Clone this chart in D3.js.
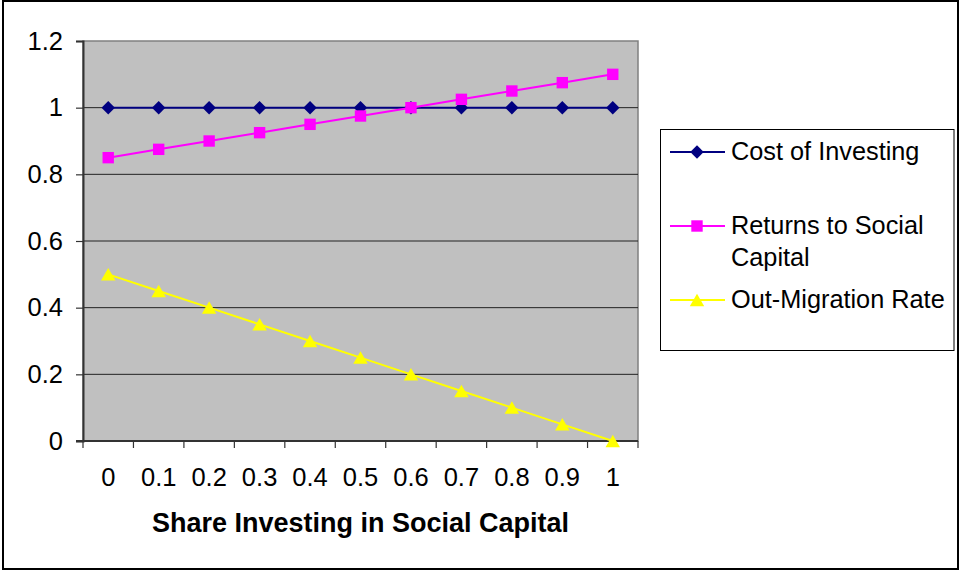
<!DOCTYPE html>
<html>
<head>
<meta charset="utf-8">
<script src="https://cdn.jsdelivr.net/npm/d3@7"></script>
<style>
  body { margin: 0; background: #fff; }
  text { font-family: "Liberation Sans", Arial, sans-serif; fill: #000; }
</style>
</head>
<body>
<div id="chart"></div>
<script>
// chart data
var categories = ["0", "0.1", "0.2", "0.3", "0.4", "0.5", "0.6", "0.7", "0.8", "0.9", "1"];
var costOfInvesting = [1, 1, 1, 1, 1, 1, 1, 1, 1, 1, 1];
var returnsToSocialCapital = [0.85, 0.875, 0.9, 0.925, 0.95, 0.975, 1.0, 1.025, 1.05, 1.075, 1.1];
var outMigrationRate = [0.5, 0.45, 0.4, 0.35, 0.3, 0.25, 0.2, 0.15, 0.1, 0.05, 0];
var yTicks = [0, 0.2, 0.4, 0.6, 0.8, 1, 1.2];

var series = [
  { name: ["Cost of Investing"], values: costOfInvesting, color: "#000080", marker: "diamond" },
  { name: ["Returns to Social", "Capital"], values: returnsToSocialCapital, color: "#FF00FF", marker: "square" },
  { name: ["Out-Migration Rate"], values: outMigrationRate, color: "#FFFF00", marker: "triangle" }
];

var width = 963, height = 571;
var plot = { left: 83, right: 638, top: 41, bottom: 441 };
var font = '"Liberation Sans", Arial, sans-serif';

var svg = d3.select('#chart').append('svg')
  .attr('width', width)
  .attr('height', height);

// outer frame
svg.append('rect')
  .attr('x', 3).attr('y', 1)
  .attr('width', 955).attr('height', 568)
  .attr('fill', '#fff')
  .attr('stroke', '#000')
  .attr('stroke-width', 2);

var x = d3.scaleBand().domain(categories).range([plot.left, plot.right]).padding(0);
var y = d3.scaleLinear().domain([0, 1.2]).range([plot.bottom, plot.top]);

function cx(i) { return x(categories[i]) + x.bandwidth() / 2; }

// plot area
svg.append('rect')
  .attr('x', plot.left).attr('y', plot.top)
  .attr('width', plot.right - plot.left).attr('height', plot.bottom - plot.top)
  .attr('fill', '#C0C0C0')
  .attr('stroke', '#808080')
  .attr('stroke-width', 1.5);

// gridlines
svg.append('g').selectAll('line')
  .data(yTicks.filter(function (d) { return d > 0 && d < 1.2; }))
  .enter().append('line')
  .attr('x1', plot.left).attr('x2', plot.right)
  .attr('y1', function (d) { return y(d); })
  .attr('y2', function (d) { return y(d); })
  .attr('stroke', '#222')
  .attr('stroke-width', 1);

// y axis
var yAxis = svg.append('g')
  .attr('transform', 'translate(' + plot.left + ',0)')
  .call(d3.axisLeft(y).tickValues(yTicks).tickSize(7).tickPadding(13).tickFormat(d3.format('~g')));
yAxis.select('.domain').attr('stroke', '#333').attr('stroke-width', 2);
yAxis.selectAll('.tick line').attr('stroke', '#333').attr('stroke-width', 1.2);
yAxis.selectAll('text').attr('font-size', 25.5).attr('font-family', font).attr('fill', '#000');

// x axis labels
var xAxis = svg.append('g')
  .attr('transform', 'translate(0,' + plot.bottom + ')')
  .call(d3.axisBottom(x).tickSize(0).tickPadding(27));
xAxis.select('.domain').remove();
xAxis.selectAll('text').attr('font-size', 25.5).attr('font-family', font).attr('fill', '#000');

// x tick marks at category boundaries
var edges = categories.map(function (c) { return x(c); }).concat([plot.right]);
svg.append('g').selectAll('line')
  .data(edges)
  .enter().append('line')
  .attr('x1', function (d) { return d; }).attr('x2', function (d) { return d; })
  .attr('y1', plot.bottom).attr('y2', plot.bottom + 7)
  .attr('stroke', '#333').attr('stroke-width', 1.2);

svg.append('line')
  .attr('x1', plot.left - 7).attr('x2', plot.right)
  .attr('y1', plot.bottom).attr('y2', plot.bottom)
  .attr('stroke', '#333').attr('stroke-width', 2);

// axis title
svg.append('text')
  .attr('x', (plot.left + plot.right) / 2)
  .attr('y', 532)
  .attr('text-anchor', 'middle')
  .attr('font-size', 27)
  .attr('font-weight', 'bold')
  .text('Share Investing in Social Capital');

function markerPath(type) {
  if (type === 'diamond') return d3.symbol().type(d3.symbolSquare).size(90)();
  if (type === 'square') return d3.symbol().type(d3.symbolSquare).size(130)();
  return d3.symbol().type(d3.symbolTriangle).size(90)();
}
function markerTransform(type, px, py) {
  if (type === 'diamond') return 'translate(' + px + ',' + py + ') rotate(45)';
  if (type === 'triangle') return 'translate(' + px + ',' + (py + 2) + ')';
  return 'translate(' + px + ',' + py + ')';
}

var line = d3.line()
  .x(function (d, i) { return cx(i); })
  .y(function (d) { return y(d); });

series.forEach(function (s) {
  var g = svg.append('g');
  g.append('path')
    .datum(s.values)
    .attr('d', line)
    .attr('fill', 'none')
    .attr('stroke', s.color)
    .attr('stroke-width', 2);
  g.selectAll('path.mk')
    .data(s.values)
    .enter().append('path')
    .attr('class', 'mk')
    .attr('d', markerPath(s.marker))
    .attr('transform', function (d, i) { return markerTransform(s.marker, cx(i), y(d)); })
    .attr('fill', s.color);
});

// legend
var legend = svg.append('g').attr('class', 'legend');
legend.append('rect')
  .attr('x', 660.5).attr('y', 129.5)
  .attr('width', 293.5).attr('height', 221)
  .attr('fill', '#fff')
  .attr('stroke', '#000')
  .attr('stroke-width', 1);

var legendBaselines = [160, 234, 308];
series.forEach(function (s, i) {
  var base = legendBaselines[i];
  var ly = base - 8;
  legend.append('line')
    .attr('x1', 670).attr('x2', 725)
    .attr('y1', ly).attr('y2', ly)
    .attr('stroke', s.color).attr('stroke-width', 2);
  legend.append('path')
    .attr('d', markerPath(s.marker))
    .attr('transform', markerTransform(s.marker, 697, ly))
    .attr('fill', s.color);
  s.name.forEach(function (t, j) {
    legend.append('text')
      .attr('x', 731)
      .attr('y', base + j * 32)
      .attr('font-size', 25.3)
      .text(t);
  });
});
</script>
</body>
</html>
